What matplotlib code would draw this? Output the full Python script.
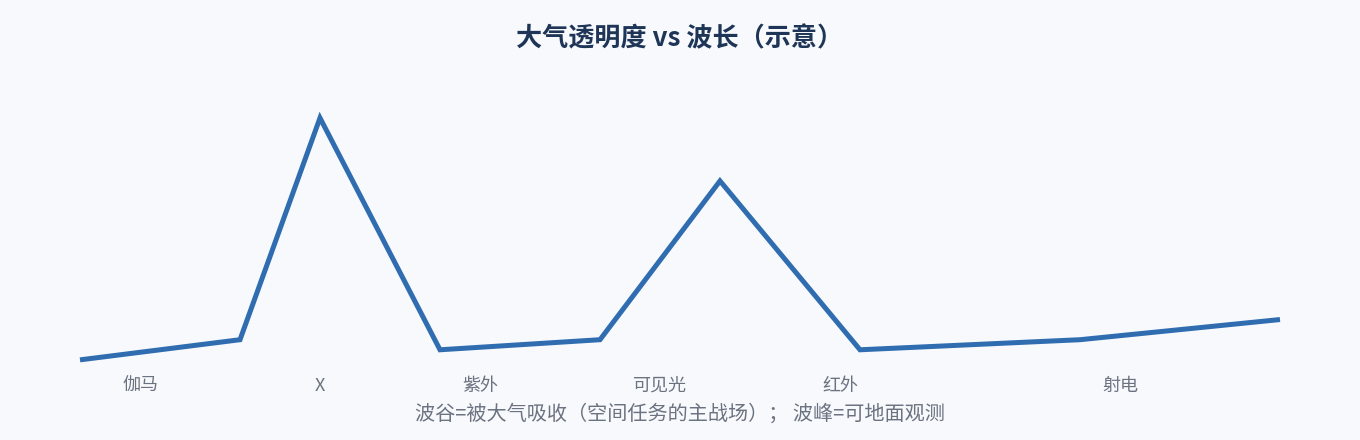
import matplotlib
matplotlib.use("Agg")
import matplotlib.pyplot as plt
import matplotlib.transforms as mtransforms

plt.rcParams["font.family"] = ["Noto Sans CJK SC", "DejaVu Sans"]

# wavelength axis (schematic units) and transparency (0-100, schematic)
wave_pos = [4, 12, 16, 22, 30, 36, 43, 54, 64]
transparency = [4, 12, 100, 8, 12, 75, 8, 12, 20]

band_names = ["伽马", "X", "紫外", "可见光", "红外", "射电"]
band_pos = [7, 16, 24, 33, 42, 56]

TITLE = "大气透明度 vs 波长（示意）"
NOTE = "波谷=被大气吸收（空间任务的主战场）； 波峰=可地面观测"

BG = "#f7f9fc"
LINE = "#2f6db0"
TEXT = "#6b7280"
NAVY = "#1e3557"

fig = plt.figure(figsize=(13.6, 4.4), dpi=100, facecolor=BG)
ax = fig.add_axes([0, 0, 1, 1])
ax.set_facecolor(BG)
ax.set_xlim(0, 68)
ax.set_ylim(-27.8, 146.8)
ax.axis("off")

ax.plot(wave_pos, transparency, color=LINE, lw=3.6,
        solid_joinstyle="miter", solid_capstyle="butt")

trans = mtransforms.blended_transform_factory(ax.transData, ax.transAxes)
for name, x in zip(band_names, band_pos):
    ax.text(x, 0.123, name, transform=trans, ha="center", va="center",
            fontsize=13, color=TEXT)

fig.text(0.5, 0.059, NOTE, ha="center", va="center", fontsize=14.5, color=TEXT)
fig.text(0.5, 0.912, TITLE, ha="center", va="center", fontsize=18.8,
         fontweight="bold", color=NAVY)

fig.savefig("out.png", dpi=100, facecolor=BG)
